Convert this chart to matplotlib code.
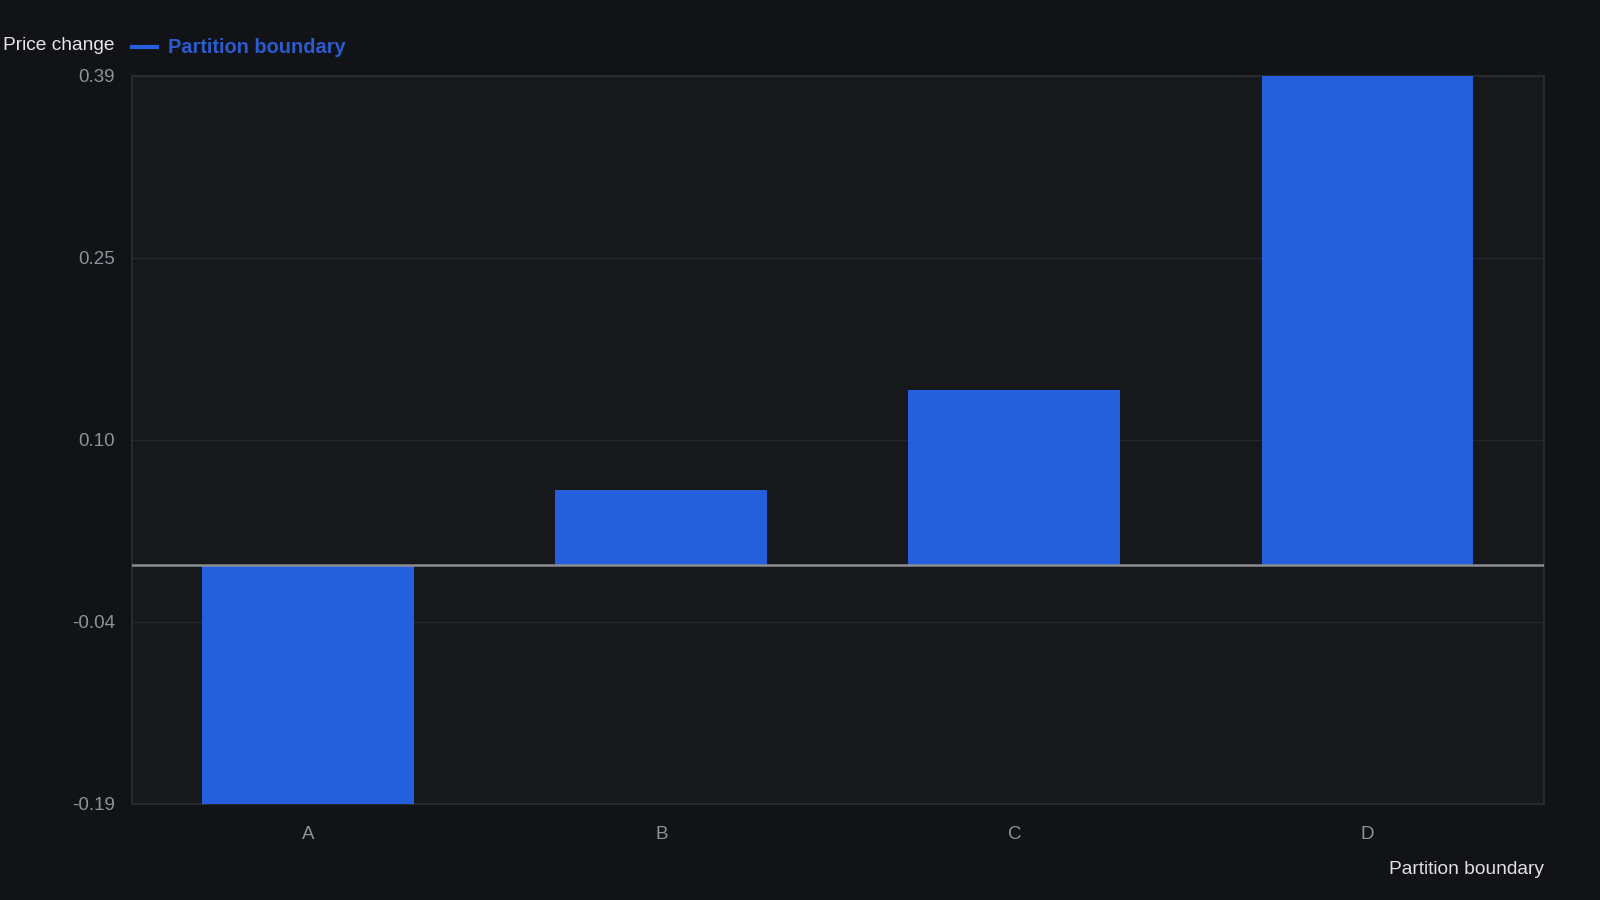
import numpy as np
import matplotlib.pyplot as plt
from matplotlib.lines import Line2D

categories = ["A", "B", "C", "D"]
price_change = [-0.19, 0.06, 0.14, 0.39]
tick_values = [-0.19, -0.04, 0.10, 0.25, 0.39]
tick_labels = ["-0.19", "-0.04", "0.10", "0.25", "0.39"]

bg = "#111317"
panel = "#16181c"
bar_color = "#2560dc"
grid_color = "#24272c"
text_gray = "#8e929a"

plt.rcParams['font.family'] = ['Liberation Sans', 'DejaVu Sans']

fig = plt.figure(figsize=(16, 9), dpi=100, facecolor=bg)
ax = fig.add_axes([0.0823, 0.1067, 0.8827, 0.8094])
ax.set_facecolor(panel)

x = np.arange(len(categories))
ax.bar(x, price_change, width=0.6, color=bar_color, zorder=3)
ax.axhline(0, color="#8a8d92", linewidth=1.8, zorder=4)

ax.set_xlim(-0.5, len(categories) - 0.5)
ax.set_ylim(-0.19, 0.39)
ax.set_yticks(np.linspace(-0.19, 0.39, 5))
ax.set_yticklabels(tick_labels)
ax.set_xticks(x)
ax.set_xticklabels(categories)

ax.grid(axis="y", color=grid_color, linewidth=1, zorder=0)
ax.tick_params(axis="both", length=0, colors=text_gray, labelsize=13.5)
ax.tick_params(axis="x", pad=16)
ax.tick_params(axis="y", pad=12)
for s in ax.spines.values():
    s.set_color("#2c2f34")
    s.set_linewidth(1.2)

fig.text(0.002, 0.949, "Price change", color="#e6e6e6", fontsize=13.8, va="center", ha="left")
fig.add_artist(Line2D([0.0823, 0.098], [0.948, 0.948], color=bar_color, linewidth=3))
fig.text(0.105, 0.947, "Partition boundary", color="#2a5bd0", fontsize=14.4, fontweight="bold",
         va="center", ha="left")
fig.text(0.965, 0.034, "Partition boundary", color="#e0e0e0", fontsize=13.8, va="center", ha="right")

fig.savefig("out.png", dpi=100, facecolor=bg)
